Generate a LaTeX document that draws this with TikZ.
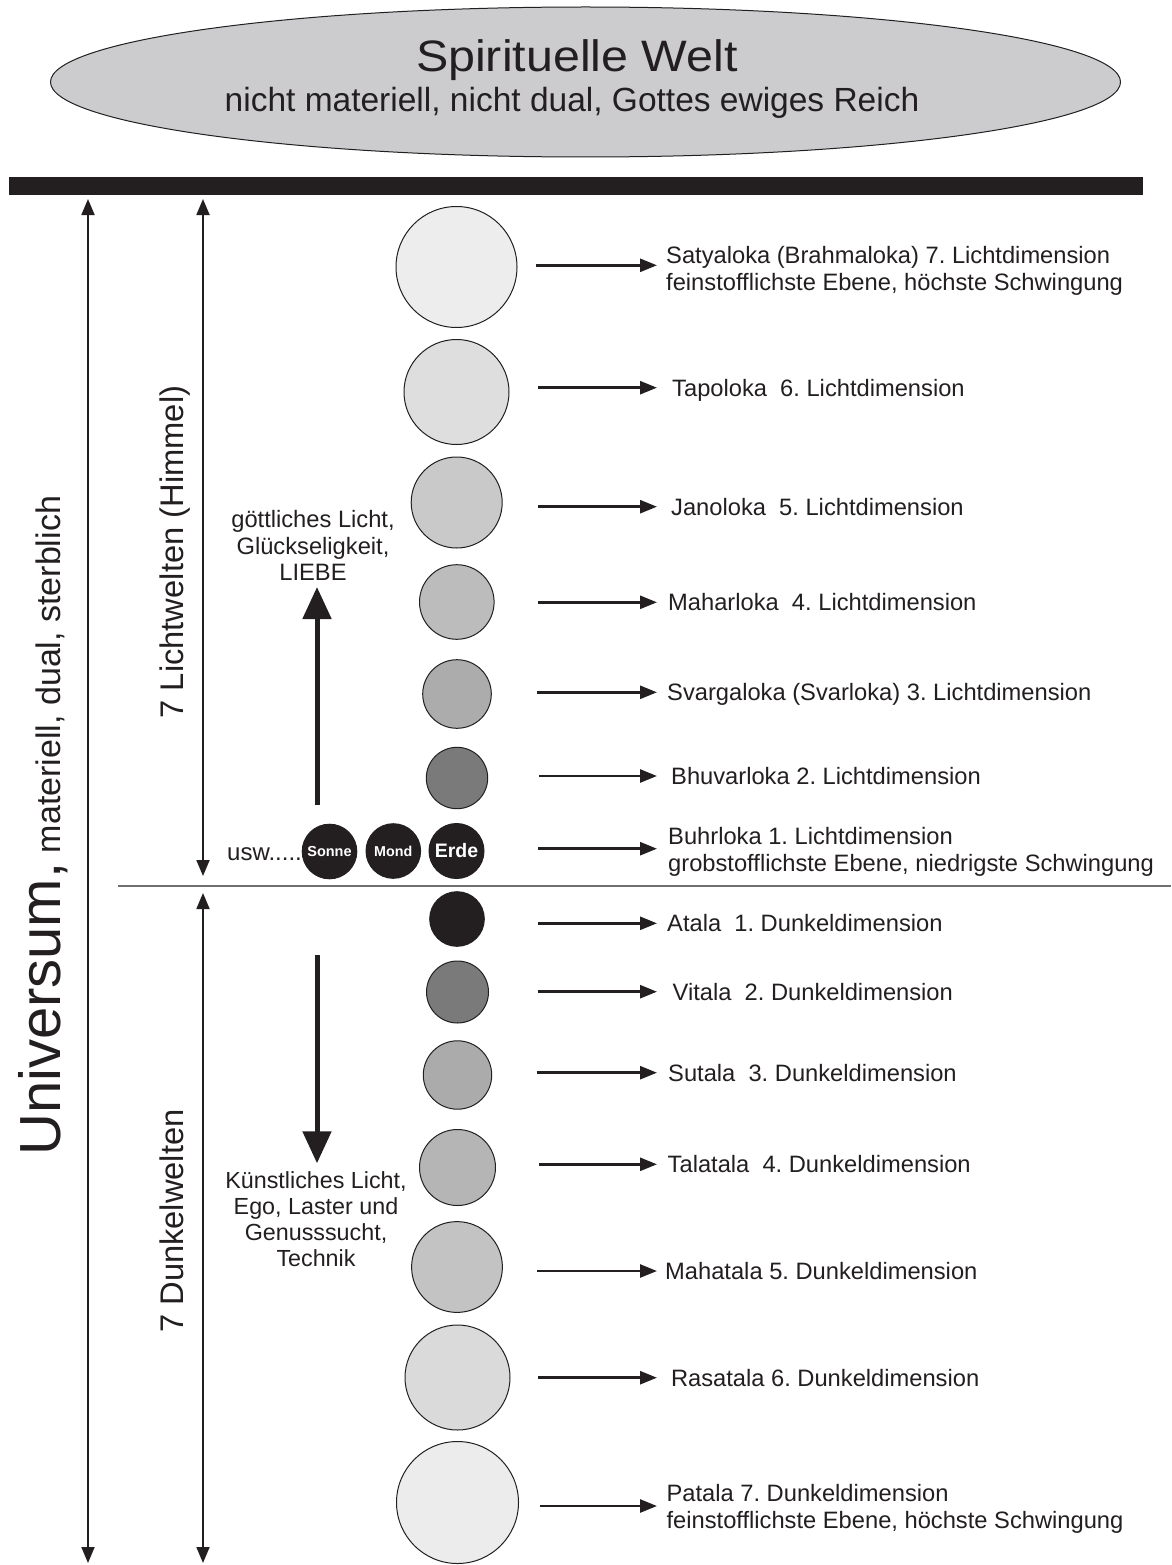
\documentclass[tikz,border=0pt]{standalone}
\usepackage{fontspec}
\setmainfont{Liberation Sans}
\usetikzlibrary{arrows.meta,shapes.geometric}
\frenchspacing
\definecolor{ink}{HTML}{231F20}
\definecolor{ellfill}{HTML}{CCCCCE}
\definecolor{sepgray}{HTML}{707070}
\definecolor{cSatya}{HTML}{EDEDED}
\definecolor{cTapo}{HTML}{DEDEDE}
\definecolor{cJano}{HTML}{C9C9C9}
\definecolor{cMahar}{HTML}{BCBCBC}
\definecolor{cSvarga}{HTML}{ACACAC}
\definecolor{cBhuvar}{HTML}{7A7A7A}
\definecolor{cVitala}{HTML}{7A7A7A}
\definecolor{cSutala}{HTML}{ABABAB}
\definecolor{cTala}{HTML}{B5B5B5}
\definecolor{cMahat}{HTML}{C3C3C3}
\definecolor{cRasa}{HTML}{DADADA}
\definecolor{cPatala}{HTML}{ECECEC}
\begin{document}
\frenchspacing
\begin{tikzpicture}[x=1pt,y=-1pt,
  planet/.style={circle,draw=ink,line width=1pt,inner sep=0pt},
  sun/.style={planet,fill=ink,text=white,font=\bfseries},
  lbl/.style={anchor=base west,inner sep=0pt,text=ink,font=\fontsize{23.7}{27}\selectfont},
  ptr/.style={line width=2.6pt,draw=ink,shorten >=#1,-{Triangle[length=17pt,width=13pt]}},
  dimarrow/.style={line width=1.8pt,draw=ink,{Triangle[length=16pt,width=13pt]}-{Triangle[length=16pt,width=13pt]}},
  bigarrow/.style={line width=5pt,draw=ink,-{Triangle[length=32pt,width=28pt]}},
  side/.style={rotate=90,inner sep=0pt,text=ink,anchor=base west},
  midtext/.style={inner sep=0pt,text=ink,anchor=base,font=\fontsize{23.7}{26.5}\selectfont},
]
\useasboundingbox (0,0) rectangle (1171,1565);
\fill[white] (0,0) rectangle (1171,1565);

% spiritual world
\node[ellipse,draw=ink,line width=1pt,fill=ellfill,minimum width=1070pt,minimum height=150pt,inner sep=0pt] (spirit) at (585.5,82) {};
\node[anchor=base,inner sep=0pt,text=ink,font=\fontsize{44}{48}\selectfont,xscale=1.1] (title) at (577,71.7) {Spirituelle Welt};
\node[anchor=base,inner sep=0pt,text=ink,font=\fontsize{33.5}{36}\selectfont] (subtitle) at (572,111.7) {nicht materiell, nicht dual, Gottes ewiges Reich};

% bar
\fill[ink] (9,176.7) rectangle (1143,195);

% dimension arrows
\coordinate (u1) at (88,199);
\coordinate (u2) at (88,1563);
\coordinate (l1) at (203,199);
\coordinate (l2) at (203,876);
\coordinate (d1) at (203,893);
\coordinate (d2) at (203,1563);
\draw[dimarrow] (u1) -- (u2);
\draw[dimarrow] (l1) -- (l2);
\draw[dimarrow] (d1) -- (d2);

% separator
\coordinate (sepL) at (118,885.5);
\coordinate (sepR) at (1171,885.5);
\draw[sepgray,line width=2pt] (sepL) -- (sepR);

% usw
\node[anchor=base west,inner sep=0pt,text=ink,font=\fontsize{24}{26}\selectfont] (usw) at (227,860) {usw......};

% planets
\node[planet,minimum size=121pt,fill=cSatya] (satya) at (456.5,267) {};
\node[planet,minimum size=105pt,fill=cTapo] (tapo) at (456.5,392) {};
\node[planet,minimum size=91pt,fill=cJano] (jano) at (456.7,502.5) {};
\node[planet,minimum size=74.6pt,fill=cMahar] (mahar) at (456.8,602) {};
\node[planet,minimum size=68.6pt,fill=cSvarga] (svarga) at (457,694) {};
\node[planet,minimum size=61.4pt,fill=cBhuvar] (bhuvar) at (457,778) {};
\node[sun,minimum size=54.6pt,font=\bfseries\fontsize{14.5}{16}\selectfont] (sonne) at (329.5,851.5) {Sonne};
\node[sun,minimum size=54.6pt,font=\bfseries\fontsize{14.3}{16}\selectfont] (mond) at (393.3,851) {Mond};
\node[sun,minimum size=55pt,font=\bfseries\fontsize{19.5}{21}\selectfont] (erde) at (456.5,851) {Erde};
\node[planet,minimum size=54.6pt,fill=ink] (atala) at (457,919) {};
\node[planet,minimum size=62pt,fill=cVitala] (vitala) at (457.5,992) {};
\node[planet,minimum size=68.4pt,fill=cSutala] (sutala) at (457.5,1075) {};
\node[planet,minimum size=76pt,fill=cTala] (talatala) at (457.5,1167.5) {};
\node[planet,minimum size=90.8pt,fill=cMahat] (mahatala) at (457,1267) {};
\node[planet,minimum size=105pt,fill=cRasa] (rasatala) at (457.5,1377.5) {};
\node[planet,minimum size=122pt,fill=cPatala] (patala) at (457.5,1502.5) {};

% labels
\node[lbl] (satyaL) at (666,263.3) {\begin{tabular}[t]{@{}l@{}}Satyaloka (Brahmaloka) 7. Lichtdimension\\feinstofflichste Ebene, höchste Schwingung\end{tabular}};
\node[lbl] (tapoL) at (672,396.2) {Tapoloka\ \ 6. Lichtdimension};
\node[lbl] (janoL) at (671,515.2) {Janoloka\ \ 5. Lichtdimension};
\node[lbl] (maharL) at (668,610.8) {Maharloka\ \ 4. Lichtdimension};
\node[lbl] (svargaL) at (667,700.8) {Svargaloka (Svarloka) 3. Lichtdimension};
\node[lbl] (bhuvarL) at (671,784.5) {Bhuvarloka 2. Lichtdimension};
\node[lbl] (buhrL) at (668,844.7) {\begin{tabular}[t]{@{}l@{}}Buhrloka 1. Lichtdimension\\grobstofflichste Ebene, niedrigste Schwingung\end{tabular}};
\node[lbl] (atalaL) at (667,931.8) {Atala\ \ 1. Dunkeldimension};
\node[lbl] (vitalaL) at (672.5,1000.2) {Vitala\ \ 2. Dunkeldimension};
\node[lbl] (sutalaL) at (668,1081.2) {Sutala\ \ 3. Dunkeldimension};
\node[lbl] (talatalaL) at (667.5,1172.8) {Talatala\ \ 4. Dunkeldimension};
\node[lbl] (mahatalaL) at (665,1279.5) {Mahatala 5. Dunkeldimension};
\node[lbl] (rasatalaL) at (670.8,1386.2) {Rasatala 6. Dunkeldimension};
\node[lbl] (patalaL) at (666.4,1501) {\begin{tabular}[t]{@{}l@{}}Patala 7. Dunkeldimension\\feinstofflichste Ebene, höchste Schwingung\end{tabular}};

% pointer arrows
\coordinate (aSatya) at (536,265.3);
\coordinate (aTapo) at (538,387.7);
\coordinate (aJano) at (538,506.7);
\coordinate (aMahar) at (537.7,602.3);
\coordinate (aSvarga) at (536.7,692.3);
\coordinate (aBhuvar) at (538.7,776);
\coordinate (aBuhr) at (538,848.7);
\coordinate (aAtala) at (537.7,923.3);
\coordinate (aVitala) at (537.7,991.7);
\coordinate (aSutala) at (536.7,1072.7);
\coordinate (aTala) at (539,1164.3);
\coordinate (aMahat) at (537,1271);
\coordinate (aRasa) at (538,1377.7);
\coordinate (aPatala) at (540,1506);
\draw[ptr=9pt] (aSatya) -- (aSatya -| satyaL.west);
\draw[ptr=15pt] (aTapo) -- (aTapo -| tapoL.west);
\draw[ptr=14pt] (aJano) -- (aJano -| janoL.west);
\draw[ptr=11pt] (aMahar) -- (aMahar -| maharL.west);
\draw[ptr=10pt] (aSvarga) -- (aSvarga -| svargaL.west);
\draw[ptr=14pt] (aBhuvar) -- (aBhuvar -| bhuvarL.west);
\draw[ptr=11pt] (aBuhr) -- (aBuhr -| buhrL.west);
\draw[ptr=10pt] (aAtala) -- (aAtala -| atalaL.west);
\draw[ptr=15.5pt] (aVitala) -- (aVitala -| vitalaL.west);
\draw[ptr=11pt] (aSutala) -- (aSutala -| sutalaL.west);
\draw[ptr=10.5pt] (aTala) -- (aTala -| talatalaL.west);
\draw[ptr=8pt] (aMahat) -- (aMahat -| mahatalaL.west);
\draw[ptr=13.8pt] (aRasa) -- (aRasa -| rasatalaL.west);
\draw[ptr=9.4pt] (aPatala) -- (aPatala -| patalaL.west);

% side texts
\node[side] (univ) at (60,1156) {\fontsize{58}{60}\selectfont Universum,\fontsize{34}{36}\selectfont{} materiell, dual, sterblich};
\node[side,font=\fontsize{32.7}{35}\selectfont] (licht) at (183,718.5) {7 Lichtwelten (Himmel)};
\node[side,font=\fontsize{32.7}{35}\selectfont] (dunkel) at (183.3,1333) {7 Dunkelwelten};

% big arrows and texts
\coordinate (upS) at (317,805);
\coordinate (upE) at (317,587);
\draw[bigarrow] (upS) -- (upE);
\node[midtext] (goettlich) at (313,527.5) {\begin{tabular}[t]{@{}c@{}}göttliches Licht,\\Glückseligkeit,\\LIEBE\end{tabular}};
\coordinate (dnS) at (317,955);
\coordinate (dnE) at (317,1163.3);
\draw[bigarrow] (dnS) -- (dnE);
\node[midtext,font=\fontsize{23.3}{26}\selectfont] (kuenstlich) at (316,1188.3) {\begin{tabular}[t]{@{}c@{}}Künstliches Licht,\\Ego, Laster und\\Genusssucht,\\Technik\end{tabular}};
\end{tikzpicture}
\end{document}
